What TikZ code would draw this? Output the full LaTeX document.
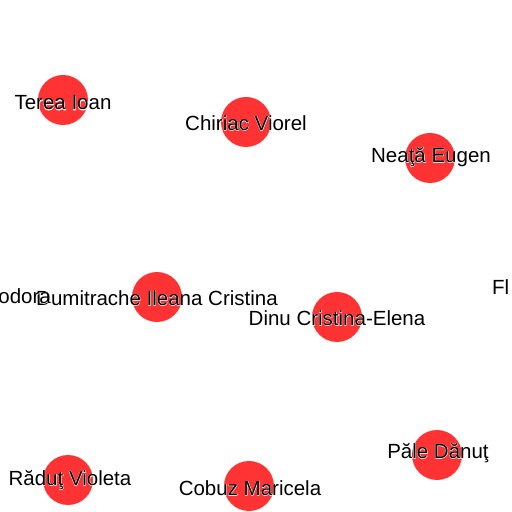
\documentclass[tikz,border=0pt]{standalone}
\usepackage{fontspec}
\setmainfont{Liberation Sans}
\newfontfamily\halofont{Liberation Sans}[FakeBold=3]
\definecolor{dotred}{RGB}{255,51,51}
\tikzset{
  dot/.style={circle,fill=dotred,draw=none,minimum size=50pt,inner sep=0pt},
  lbl/.style={inner sep=0pt,font=\fontsize{20.5}{20.5}\selectfont,text=black},
  halo/.style={inner sep=0pt,font=\halofont\fontsize{20.5}{20.5}\selectfont,text=white}
}
\newcommand\gnode[6]{% name, cx, cy, lx, ly, text
  \node[dot] (#1) at (#2,512-#3) {};
  \node[halo] at (#4,512-#5) {#6};
  \node[lbl] (#1-l) at (#4,512-#5) {#6};
}
\newcommand\ghalo[4]{% name, anchor, x, y, text
  \node[halo,anchor=#2] at (#3) {#4};
  \node[lbl,anchor=#2] (#1) at (#3) {#4};
}
\begin{document}
\begin{tikzpicture}[x=1pt,y=1pt]
\useasboundingbox[fill=white] (0,0) rectangle (512,512);
\gnode{terea}{63}{100}{63}{103}{Terea Ioan}
\gnode{chiriac}{246}{122}{246}{123}{Chiriac Viorel}
\gnode{neata}{430}{158}{431}{157}{Neaţă Eugen}
\gnode{dinu}{337}{317}{337}{318}{Dinu Cristina-Elena}
\gnode{dumi}{157}{297}{157}{298}{Dumitrache Ileana Cristina}
\ghalo{odora}{east}{51,512-296}{odora}
\ghalo{fl}{west}{492,512-287}{Fl}
\gnode{radut}{68}{480}{70}{480}{Răduţ Violeta}
\gnode{cobuz}{249}{486}{250}{488}{Cobuz Maricela}
\gnode{pale}{437}{455}{438}{453}{Păle Dănuţ}
\end{tikzpicture}
\end{document}
